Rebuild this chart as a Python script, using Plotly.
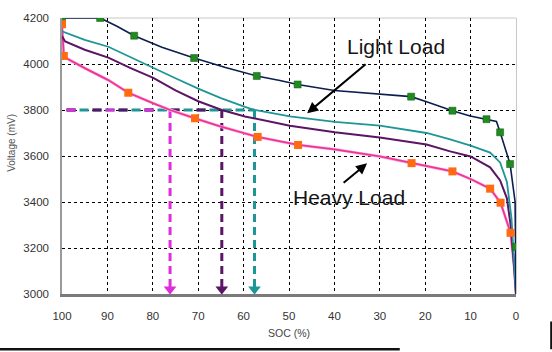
import plotly.graph_objects as go

# ---- data ----
soc_ticks = [100, 90, 80, 70, 60, 50, 40, 30, 20, 10, 0]
mv_ticks = [3000, 3200, 3400, 3600, 3800, 4000, 4200]

light_soc = [100, 91.6, 88, 84.1, 78, 70.9, 64, 57.1, 52, 48.1, 40, 30, 23.1, 19.7, 14, 10.1, 6.5, 4.3, 3.5, 1.3, 0.2, 0.05, 0]
light_mv = [4200, 4200, 4165, 4123, 4073, 4026, 3985, 3948, 3928, 3911, 3885, 3868, 3858, 3836, 3797, 3774, 3760, 3750, 3703, 3565, 3401, 3205, 3000]
light_mk_soc = [100, 91.6, 84.1, 70.9, 57.1, 48.1, 23.1, 14, 6.5, 3.5, 1.3, 0.05]
light_mk_mv = [4200, 4200, 4123, 4026, 3948, 3911, 3858, 3797, 3760, 3703, 3565, 3205]

mid1_soc = [100, 95, 89.8, 85, 79.9, 75, 70, 65, 59.7, 57.6, 49.8, 39.9, 30, 19.7, 14.5, 10, 5.7, 3.5, 2.0, 1.0, 0]
mid1_mv = [4142, 4105, 4075, 4030, 3985, 3938, 3893, 3852, 3814, 3800, 3772, 3748, 3732, 3700, 3672, 3645, 3615, 3572, 3487, 3330, 3000]

mid2_soc = [100, 99.3, 95, 89.8, 85, 79.9, 75, 70, 64.8, 59.7, 49.8, 39.9, 30, 19.7, 14.5, 10, 5.7, 3.5, 2.0, 1.0, 0]
mid2_mv = [4120, 4098, 4062, 4028, 3983, 3940, 3885, 3838, 3800, 3772, 3732, 3703, 3680, 3650, 3620, 3598, 3551, 3494, 3416, 3273, 3000]

heavy_soc = [100, 99.6, 99, 95, 89.8, 85.4, 80, 76.2, 70.7, 65, 60, 56.9, 48, 40, 30, 23, 14, 10, 5.7, 3.4, 1.2, 0.3, 0]
heavy_mv = [4165, 4040, 4025, 3982, 3930, 3875, 3830, 3800, 3764, 3728, 3700, 3683, 3648, 3629, 3598, 3569, 3533, 3500, 3458, 3397, 3266, 3100, 3000]
heavy_mk_soc = [100, 99.6, 85.4, 70.7, 56.9, 48, 23, 14, 5.7, 3.4, 1.2]
heavy_mk_mv = [4173, 4035, 3875, 3764, 3683, 3648, 3569, 3533, 3458, 3397, 3266]

cutoff_mv = 3800
cutoff_start_soc = 99
cutoff_soc = [76.2, 64.8, 57.6]   # heavy, middle, light-ish crossings
arrow_mv = 3021

NAVY = "#0c1d4f"
TEAL = "#1f9696"
PURPLE = "#5c1466"
PINK = "#ee3399"
MAGENTA = "#dd2ddd"
GREEN = "#1e8c1e"
ORANGE = "#ff6a13"

fig = go.Figure()

# horizontal 3800 mV reference (mixed dashes)
fig.add_trace(go.Scatter(x=[cutoff_start_soc, cutoff_soc[2]], y=[cutoff_mv, cutoff_mv], mode="lines",
                         line=dict(color=TEAL, width=3, dash="9px,4px"), hoverinfo="skip"))
fig.add_trace(go.Scatter(x=[cutoff_start_soc, cutoff_soc[1]], y=[cutoff_mv, cutoff_mv], mode="lines",
                         line=dict(color=PURPLE, width=3, dash="9px,17px"), hoverinfo="skip"))
fig.add_trace(go.Scatter(x=[cutoff_start_soc, cutoff_soc[0]], y=[cutoff_mv, cutoff_mv], mode="lines",
                         line=dict(color=MAGENTA, width=3, dash="9px,30px"), hoverinfo="skip"))

# vertical dashed arrows
for s, c in zip(cutoff_soc, [MAGENTA, PURPLE, TEAL]):
    fig.add_trace(go.Scatter(x=[s, s], y=[cutoff_mv, arrow_mv], mode="lines",
                             line=dict(color=c, width=3, dash="8px,5px"), hoverinfo="skip"))
    fig.add_trace(go.Scatter(x=[s], y=[arrow_mv], mode="markers",
                             marker=dict(symbol="triangle-down", size=11, color=c), hoverinfo="skip"))

# curves
fig.add_trace(go.Scatter(x=heavy_soc, y=heavy_mv, mode="lines",
                         line=dict(color="#ffb3dc", width=3)))
fig.add_trace(go.Scatter(x=heavy_soc, y=heavy_mv, mode="lines",
                         line=dict(color=PINK, width=1.8)))
fig.add_trace(go.Scatter(x=mid2_soc, y=mid2_mv, mode="lines",
                         line=dict(color=PURPLE, width=2)))
fig.add_trace(go.Scatter(x=mid1_soc, y=mid1_mv, mode="lines",
                         line=dict(color=TEAL, width=1.8)))
fig.add_trace(go.Scatter(x=light_soc, y=light_mv, mode="lines",
                         line=dict(color=NAVY, width=1.6)))
fig.add_trace(go.Scatter(x=light_mk_soc, y=light_mk_mv, mode="markers",
                         marker=dict(symbol="square", size=7, color=GREEN,
                                     line=dict(color="#145214", width=0.5))))
fig.add_trace(go.Scatter(x=heavy_mk_soc, y=heavy_mk_mv, mode="markers",
                         marker=dict(symbol="square", size=8, color=ORANGE)))

FONT = "Liberation Sans, Arial, sans-serif"

fig.update_layout(
    width=552, height=352,
    margin=dict(l=62, r=36, t=13, b=58),
    paper_bgcolor="white", plot_bgcolor="white",
    showlegend=False,
    font=dict(family=FONT, color="#333333"),
    xaxis=dict(range=[100, 0], tickvals=soc_ticks, ticktext=[str(v) for v in soc_ticks],
               showgrid=True, gridcolor="#000000", gridwidth=1, griddash="3px,3px",
               showline=True, linecolor="#7a7a7a", linewidth=2.5,
               zeroline=True, zerolinecolor="#c8c8c8", zerolinewidth=1.2,
               ticks="", ticklabelstandoff=9, tickfont=dict(size=11.5, color="#333333")),
    yaxis=dict(range=[3000, 4200], tickvals=mv_ticks, ticktext=[str(v) for v in mv_ticks],
               showgrid=True, gridcolor="#000000", gridwidth=1, griddash="3px,3px",
               showline=True, linecolor="#9a9a9a", linewidth=1.5,
               zeroline=False,
               ticks="", ticklabelstandoff=9, tickfont=dict(size=11.5, color="#333333")),
    shapes=[
        dict(type="line", xref="paper", yref="paper", x0=0, x1=1, y0=1, y1=1,
             line=dict(color="#c8c8c8", width=1.2), layer="between"),
        dict(type="line", xref="paper", yref="paper", x0=-0.137, x1=0.744, y0=-0.2, y1=-0.2,
             line=dict(color="#111111", width=2.5)),
        dict(type="line", xref="paper", yref="paper", x0=1.0775, x1=1.0775, y0=-0.2, y1=-0.1,
             line=dict(color="#111111", width=2)),
    ],
    annotations=[
        dict(text="SOC (%)", xref="paper", yref="paper", x=0.5, y=-0.142, xanchor="center",
             yanchor="middle", showarrow=False, font=dict(size=10.5, color="#444444")),
        dict(text="Voltage (mV)", xref="paper", yref="paper", x=-0.11, y=0.548, xanchor="center",
             yanchor="middle", textangle=-90, showarrow=False, font=dict(size=10, color="#555555")),
        dict(text="Light Load", xref="x", yref="y", x=26.4, y=4078, xanchor="center", yanchor="middle",
             showarrow=False, font=dict(size=21, color="#151515")),
        dict(text="Heavy Load", xref="x", yref="y", x=36.7, y=3419, xanchor="center", yanchor="middle",
             showarrow=False, font=dict(size=21, color="#151515")),
        dict(text="", xref="x", yref="y", x=46.0, y=3786, axref="x", ayref="y", ax=32.8, ay=4004,
             showarrow=True, arrowhead=2, arrowsize=1.1, arrowwidth=2, arrowcolor="#000000", standoff=0),
        dict(text="", xref="x", yref="y", x=32.8, y=3568, axref="x", ayref="y", ax=38.3, ay=3478,
             showarrow=True, arrowhead=2, arrowsize=1.1, arrowwidth=2, arrowcolor="#000000", standoff=0),
    ],
)

fig.write_html("out.html")
